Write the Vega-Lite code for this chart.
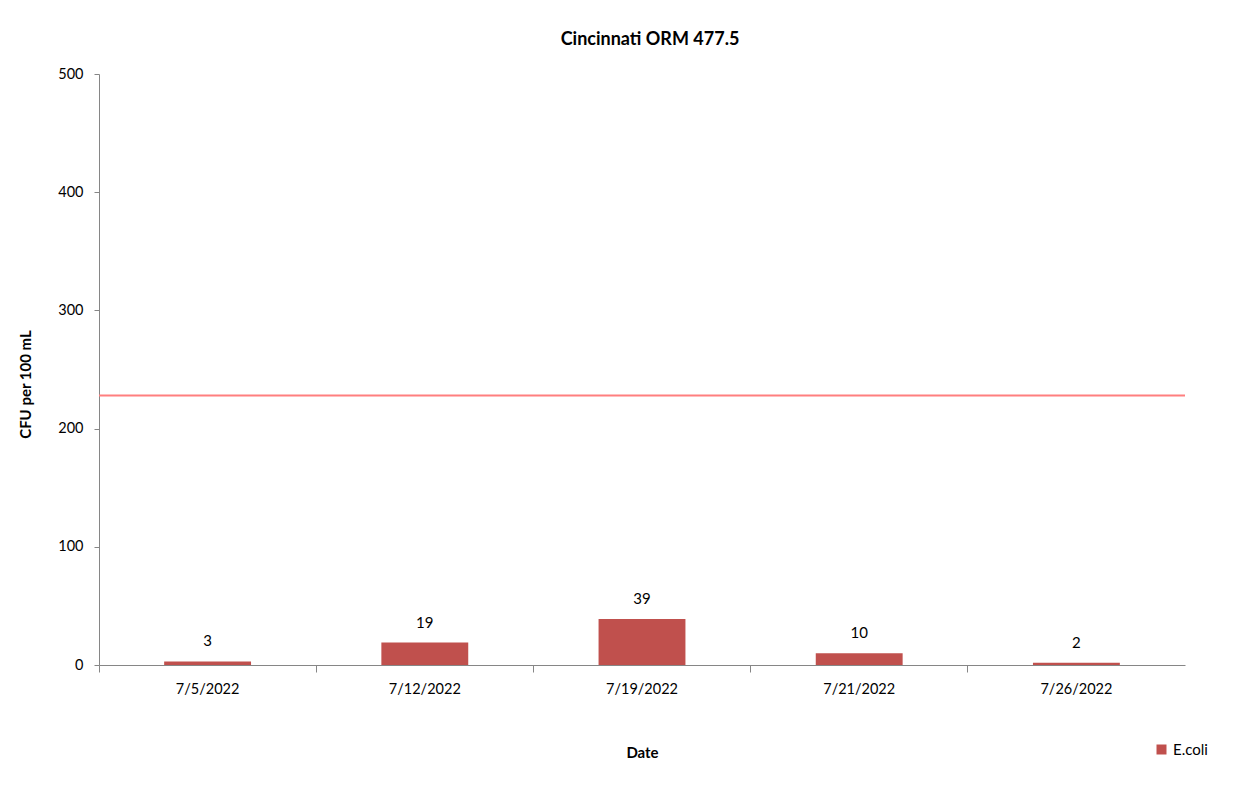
{
  "$schema": "https://vega.github.io/schema/vega-lite/v6.json",
  "width": 1086,
  "height": 591,
  "autosize": {"type": "none"},
  "padding": {"left": 99, "top": 74, "right": 64, "bottom": 124},
  "background": "white",
  "config": {"view": {"stroke": null}, "font": "Lato", "text": {"font": "Lato"}},
  "title": {"text": "Cincinnati ORM 477.5", "fontSize": 18, "fontWeight": "bold", "font": "Lato", "color": "#000000", "offset": 17, "dx": 8},
  "datasets": {
    "ecoli": [
      {"date": "7/5/2022", "cfu": 3, "series": "E.coli"},
      {"date": "7/12/2022", "cfu": 19, "series": "E.coli"},
      {"date": "7/19/2022", "cfu": 39, "series": "E.coli"},
      {"date": "7/21/2022", "cfu": 10, "series": "E.coli"},
      {"date": "7/26/2022", "cfu": 2, "series": "E.coli"}
    ],
    "limit": [{"limit": 228}]
  },
  "layer": [
    {
      "data": {"name": "ecoli"},
      "mark": {"type": "bar", "width": {"band": 0.4}},
      "encoding": {
        "x": {
          "field": "date", "type": "nominal", "sort": null,
          "scale": {"paddingInner": 0, "paddingOuter": 0},
          "axis": {
            "title": "Date", "titleFontSize": 15, "titleFontWeight": "bold", "titleColor": "#000000", "titlePadding": 50,
            "labelAngle": 0, "labelFontSize": 14.5, "labelColor": "#000000", "labelPadding": 10,
            "bandPosition": 0,
            "domainColor": "#868686", "tickColor": "#868686", "tickSize": 7, "grid": false
          }
        },
        "y": {
          "field": "cfu", "type": "quantitative",
          "scale": {"domain": [0, 500]},
          "axis": {
            "title": "CFU per 100 mL", "titleFontSize": 15, "titleFontWeight": "bold", "titleColor": "#000000", "titlePadding": 24, "titleY": 310,
            "values": [0, 100, 200, 300, 400, 500],
            "labelFontSize": 14.5, "labelColor": "#000000", "labelPadding": 11,
            "domainColor": "#868686", "tickColor": "#868686", "tickSize": 5, "grid": false
          }
        },
        "color": {
          "field": "series", "type": "nominal",
          "scale": {"range": ["#C0504D"]},
          "legend": {"title": null, "orient": "none", "legendX": 1055, "legendY": 668, "symbolType": "square", "symbolSize": 100, "labelFontSize": 15, "labelColor": "#000000", "symbolStrokeWidth": 0}
        }
      }
    },
    {
      "data": {"name": "ecoli"},
      "mark": {"type": "text", "dy": -20, "fontSize": 15, "baseline": "middle", "color": "#000000"},
      "encoding": {
        "x": {"field": "date", "type": "nominal", "sort": null},
        "y": {"field": "cfu", "type": "quantitative"},
        "text": {"field": "cfu", "type": "quantitative"}
      }
    },
    {
      "data": {"name": "limit"},
      "mark": {"type": "rule", "color": "#FF7F7F", "strokeWidth": 2},
      "encoding": {
        "y": {"field": "limit", "type": "quantitative"}
      }
    }
  ]
}
